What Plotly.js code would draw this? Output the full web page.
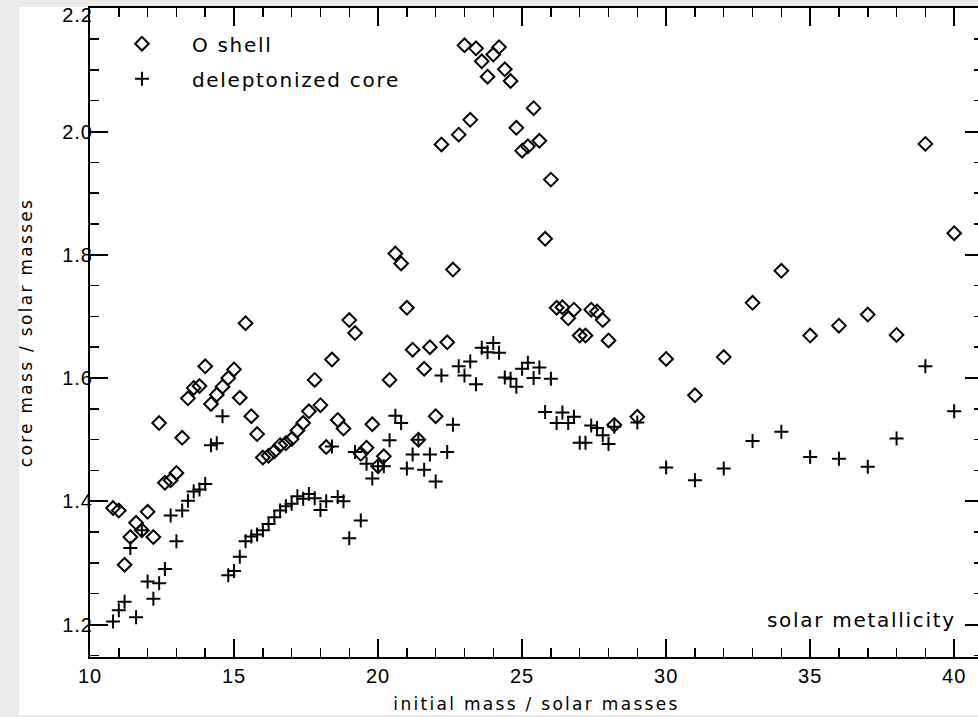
<!DOCTYPE html>
<html>
<head>
<meta charset="utf-8">
<script src="https://cdn.plot.ly/plotly-3.0.1.min.js"></script>
<style>
  html, body { margin: 0; padding: 0; background: #ebebeb; overflow: hidden; width: 978px; height: 717px; }
  #bg { position: absolute; left: 19px; top: 7px; width: 981px; height: 708px; background: white; }
  #chart { position: absolute; left: 0; top: 0; width: 1000px; height: 717px; }
  .xtitle, .ytitle { letter-spacing: 2.3px; }
  .legendtext, .annotation-text { letter-spacing: 1.7px; }
  .xtick text, .ytick text { letter-spacing: 1px; }
  g.ytick { transform: translate(9px, 0px); }
  g.ytick:last-of-type { transform: translate(9px, 7px); }
</style>
</head>
<body>
<div id="bg"></div>
<div id="chart"></div>
<script>
// Initial stellar mass (solar masses)
const massO = [10.8, 11.0, 11.2, 11.4, 11.6, 11.8, 12.0, 12.2, 12.4, 12.6, 12.8, 13.0, 13.2, 13.4, 13.6, 13.8,
  14.0, 14.2, 14.4, 14.6, 14.8, 15.0, 15.2, 15.4, 15.6, 15.8, 16.0, 16.2, 16.4, 16.6, 16.8, 17.0, 17.2, 17.4,
  17.6, 17.8, 18.0, 18.2, 18.4, 18.6, 18.8, 19.0, 19.2, 19.4, 19.6, 19.8, 20.0, 20.2, 20.4, 20.6, 20.8, 21.0,
  21.2, 21.4, 21.6, 21.8, 22.0, 22.2, 22.4, 22.6, 22.8, 23.0, 23.2, 23.4, 23.6, 23.8, 24.0, 24.2, 24.4, 24.6,
  24.8, 25.0, 25.2, 25.4, 25.6, 25.8, 26.0, 26.2, 26.4, 26.6, 26.8, 27.0, 27.2, 27.4, 27.6, 27.8, 28.0, 28.2,
  29, 30, 31, 32, 33, 34, 35, 36, 37, 38, 39, 40];
// O shell core mass
const oShell = [1.389, 1.385, 1.297, 1.342, 1.365, 1.353, 1.383, 1.342, 1.527, 1.430, 1.434, 1.446, 1.503, 1.567, 1.584, 1.587,
  1.619, 1.558, 1.573, 1.586, 1.600, 1.614, 1.568, 1.689, 1.538, 1.509, 1.471, 1.474, 1.481, 1.491, 1.494, 1.501, 1.515, 1.527,
  1.546, 1.597, 1.556, 1.488, 1.630, 1.532, 1.518, 1.694, 1.673, 1.477, 1.487, 1.525, 1.457, 1.473, 1.597, 1.802, 1.786, 1.714,
  1.646, 1.500, 1.615, 1.650, 1.538, 1.979, 1.658, 1.776, 1.995, 2.140, 2.019, 2.135, 2.114, 2.089, 2.125, 2.137, 2.101, 2.082,
  2.006, 1.969, 1.976, 2.038, 1.985, 1.826, 1.922, 1.714, 1.715, 1.697, 1.711, 1.669, 1.669, 1.711, 1.708, 1.694, 1.661, 1.524,
  1.537, 1.631, 1.572, 1.634, 1.722, 1.774, 1.669, 1.685, 1.703, 1.670, 1.980, 1.835];
const massCore = [10.8, 11.0, 11.2, 11.4, 11.6, 11.8, 12.0, 12.2, 12.4, 12.6, 12.8, 13.0, 13.2, 13.4, 13.6, 13.8,
  14.0, 14.2, 14.4, 14.6, 14.8, 15.0, 15.2, 15.4, 15.6, 15.8, 16.0, 16.2, 16.4, 16.6, 16.8, 17.0, 17.2, 17.4,
  17.6, 17.8, 18.0, 18.2, 18.4, 18.6, 18.8, 19.0, 19.2, 19.4, 19.6, 19.8, 20.0, 20.2, 20.4, 20.6, 20.8, 21.0,
  21.2, 21.4, 21.6, 21.8, 22.0, 22.2, 22.4, 22.6, 22.8, 23.0, 23.2, 23.4, 23.6, 23.8, 24.0, 24.2, 24.4, 24.6,
  24.8, 25.0, 25.2, 25.4, 25.6, 25.8, 26.0, 26.2, 26.4, 26.6, 26.8, 27.0, 27.2, 27.4, 27.6, 27.8, 28.0, 28.2,
  29, 30, 31, 32, 33, 34, 35, 36, 37, 38, 39, 40];
// deleptonized core mass
const deleptCore = [1.205, 1.223, 1.237, 1.324, 1.212, 1.353, 1.270, 1.242, 1.267, 1.290, 1.377, 1.335, 1.385, 1.401, 1.416, 1.419,
  1.428, 1.491, 1.494, 1.538, 1.280, 1.287, 1.310, 1.335, 1.343, 1.346, 1.353, 1.363, 1.374, 1.385, 1.392, 1.396, 1.408, 1.404,
  1.412, 1.405, 1.386, 1.400, 1.489, 1.407, 1.400, 1.340, 1.480, 1.369, 1.461, 1.437, 1.457, 1.457, 1.499, 1.539, 1.527, 1.453,
  1.476, 1.500, 1.451, 1.476, 1.432, 1.604, 1.480, 1.524, 1.619, 1.604, 1.627, 1.590, 1.649, 1.642, 1.657, 1.641, 1.601, 1.599,
  1.586, 1.615, 1.625, 1.600, 1.617, 1.545, 1.599, 1.527, 1.544, 1.527, 1.537, 1.495, 1.495, 1.523, 1.519, 1.507, 1.493, 1.521,
  1.528, 1.455, 1.434, 1.453, 1.498, 1.513, 1.472, 1.469, 1.456, 1.502, 1.619, 1.546];

const seriesNames = ['O shell', 'deleptonized core'];
const noteText = 'solar metallicity';
const xTitle = 'initial mass / solar masses';
const yTitle = 'core mass / solar masses';
const yTickVals = [1.2, 1.4, 1.6, 1.8, 2.0, 2.2];
const yTickText = ['1.2', '1.4', '1.6', '1.8', '2.0', '2.2'];

const traces = [
  {
    x: massO, y: oShell, name: seriesNames[0], type: 'scatter', mode: 'markers',
    legendgroup: 'a',
    marker: { symbol: 'diamond-open', size: 10.5, color: 'black', line: { width: 2, color: 'black' } }
  },
  {
    x: massCore, y: deleptCore, name: seriesNames[1], type: 'scatter', mode: 'markers',
    legendgroup: 'b',
    marker: { symbol: 'cross-thin-open', size: 10, color: 'black', line: { width: 2, color: 'black' } }
  }
];

const axisFont = { family: 'Liberation Sans, Arial, sans-serif', size: 20, color: 'black' };
const titleFont = { family: 'DejaVu Sans, sans-serif', size: 17, color: 'black' };

const layout = {
  width: 1000, height: 717,
  margin: { l: 90, r: 17, t: 8, b: 60 },
  paper_bgcolor: 'rgba(0,0,0,0)',
  plot_bgcolor: 'rgba(0,0,0,0)',
  showlegend: true,
  legend: {
    x: 0.0022, xanchor: 'left', y: 0.975, yanchor: 'top',
    bgcolor: 'rgba(0,0,0,0)', borderwidth: 0,
    font: { family: 'DejaVu Sans, sans-serif', size: 20, color: 'black' },
    itemwidth: 90, tracegroupgap: 6
  },
  xaxis: {
    range: [10, 41], tick0: 10, dtick: 5,
    ticks: 'inside', ticklen: 18, tickwidth: 2, tickcolor: 'black',
    showline: true, linewidth: 2, linecolor: 'black', mirror: 'ticks',
    showgrid: false, zeroline: false,
    tickfont: axisFont,
    minor: { dtick: 1, ticks: 'inside', ticklen: 9, tickwidth: 1.5, tickcolor: 'black', showgrid: false },
    title: { text: xTitle, font: titleFont, standoff: 12 }
  },
  yaxis: {
    range: [1.1473, 2.2005], tickmode: 'array', tickvals: yTickVals, ticktext: yTickText,
    ticklabeloverflow: 'allow',
    ticks: 'inside', ticklen: 18, tickwidth: 2, tickcolor: 'black',
    showline: true, linewidth: 2, linecolor: 'black', mirror: 'ticks',
    showgrid: false, zeroline: false,
    tickfont: axisFont,
    minor: { tick0: 1.2, dtick: 0.05, ticks: 'inside', ticklen: 9, tickwidth: 1.5, tickcolor: 'black', showgrid: false },
    title: { text: yTitle, font: titleFont, standoff: 25 }
  },
  annotations: [
    {
      text: noteText, xref: 'paper', yref: 'paper', x: 0.9717, y: 0.057,
      xanchor: 'right', yanchor: 'middle', showarrow: false,
      font: { family: 'DejaVu Sans, sans-serif', size: 20, color: 'black' }
    }
  ]
};

Plotly.newPlot('chart', traces, layout, { displayModeBar: false, staticPlot: true });
</script>
</body>
</html>
